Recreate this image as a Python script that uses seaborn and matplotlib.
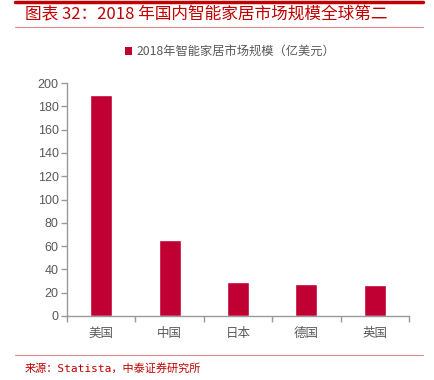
import matplotlib
matplotlib.use("Agg")
import matplotlib.pyplot as plt
import seaborn as sns
import pandas as pd
from matplotlib.lines import Line2D
from matplotlib.patches import Patch

# data
countries = ["美国", "中国", "日本", "德国", "英国"]
market_size = [189.5, 65, 29, 27.7, 26.2]
series_name = "2018年智能家居市场规模（亿美元）"
title = "图表 32：2018 年国内智能家居市场规模全球第二"
source = "来源：Statista，中泰证券研究所"

df = pd.DataFrame({"国家": countries, "规模": market_size})

sns.set_theme(style="white")
plt.rcParams["font.family"] = ["Noto Sans CJK SC", "DejaVu Sans"]

bar_color = "#C00032"
grey = "#999999"
red = "#C00000"

fig = plt.figure(figsize=(4.34, 3.8), dpi=100)
ax = fig.add_axes([67 / 434, 1 - 316 / 380, (409 - 67) / 434, (316 - 83) / 380])

sns.barplot(data=df, x="国家", y="规模", color=bar_color,
            width=0.32, saturation=1, ax=ax)

ax.set_ylim(0, 200)
ax.set_xlim(-0.5, len(countries) - 0.5)
ax.set_yticks(range(0, 201, 20))
ax.set_xlabel("")
ax.set_ylabel("")
for side in ["top", "right"]:
    ax.spines[side].set_visible(False)
for side in ["left", "bottom"]:
    ax.spines[side].set_color(grey)
    ax.spines[side].set_linewidth(1)

ax.tick_params(axis="y", which="major", length=4, width=1, color=grey,
               labelsize=9, labelcolor="#595959", direction="out", left=True, pad=2)
ax.set_xticks([i - 0.5 for i in range(len(countries) + 1)], minor=True)
ax.tick_params(axis="x", which="minor", length=4, width=1, color=grey,
               direction="out", bottom=True)
ax.tick_params(axis="x", which="major", length=0, labelsize=9,
               labelcolor="#595959", pad=8)
for lab in ax.get_yticklabels():
    lab.set_fontfamily(["Liberation Sans", "DejaVu Sans"])
for lab in ax.get_xticklabels():
    lab.set_fontweight("light")

# legend above the plot
handle = Patch(facecolor=bar_color, edgecolor="none")
leg = fig.legend([handle], [series_name], loc="center", bbox_to_anchor=(0.53, 1 - 52 / 380),
                 frameon=False, fontsize=8.8, handlelength=0.6, handleheight=0.6,
                 handletextpad=0.3, labelcolor="#595959")
for t in leg.get_texts():
    t.set_fontweight("light")

# header / footer decorations
fig.add_artist(Line2D([15 / 434, 423 / 434], [1 - 1.5 / 380, 1 - 1.5 / 380],
                      color=red, lw=2.5))
fig.add_artist(Line2D([15 / 434, 423 / 434], [1 - 27 / 380, 1 - 27 / 380],
                      color="#d98c8c", lw=0.8))
fig.add_artist(Line2D([15 / 434, 423 / 434], [1 - 355 / 380, 1 - 355 / 380],
                      color="#d98c8c", lw=0.8))
fig.text(25 / 434, 1 - 15 / 380, title, color=red, fontsize=12, style="italic",
         fontweight="light", va="center", ha="left")
fig.text(25 / 434, 1 - 368 / 380, source, color=red, fontsize=8,
         family=["DejaVu Sans Mono", "Noto Sans CJK SC"], va="center", ha="left")

fig.savefig("out.png", dpi=100)
